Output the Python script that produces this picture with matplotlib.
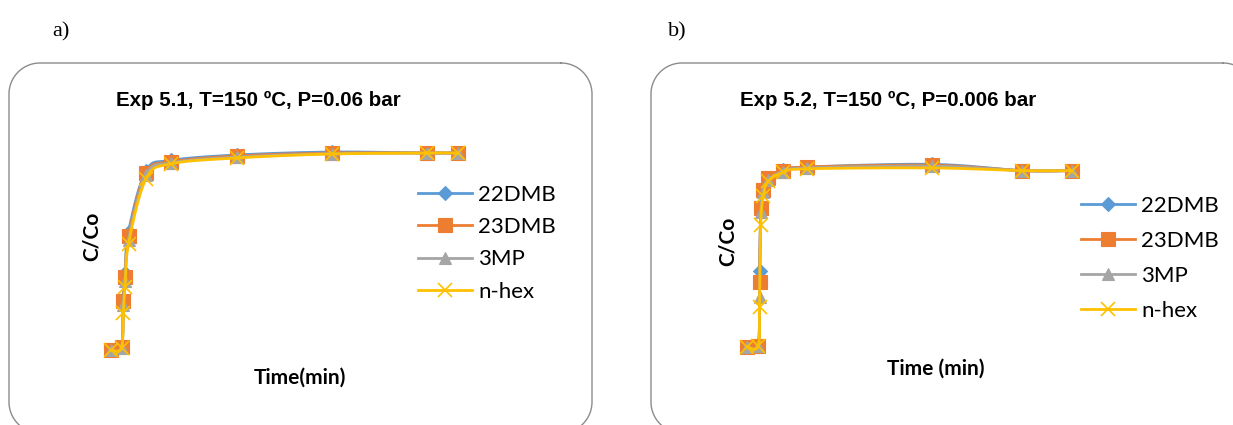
import numpy as np
import matplotlib
matplotlib.use('Agg')
import matplotlib.pyplot as plt
from matplotlib.lines import Line2D

# ---------------- data ----------------
series_names = ["22DMB", "23DMB", "3MP", "n-hex"]

time_a = [0, 3, 3.5, 4, 5, 10, 17, 36, 63, 90, 99]
a_22DMB = [0, 0.015, 0.26, 0.39, 0.60, 0.91, 0.962, 0.99, 1.005, 1.0, 1.0]
a_23DMB = [0, 0.015, 0.25, 0.37, 0.58, 0.90, 0.955, 0.985, 1.0, 1.0, 1.0]
a_3MP = [0, 0.012, 0.23, 0.35, 0.56, 0.89, 0.95, 0.98, 0.997, 1.0, 1.0]
a_nhex = [0, 0.01, 0.19, 0.32, 0.54, 0.87, 0.945, 0.975, 0.995, 1.0, 1.0]

time_b = [0, 4.5, 5, 5.5, 6.5, 8.5, 14.5, 24, 74, 110, 130]
b_22DMB = [0, 0.005, 0.42, 0.77, 0.87, 0.94, 0.985, 1.0, 1.015, 0.98, 0.98]
b_23DMB = [0, 0.005, 0.36, 0.77, 0.87, 0.94, 0.98, 1.0, 1.01, 0.98, 0.98]
b_3MP = [0, 0.005, 0.28, 0.75, 0.86, 0.93, 0.975, 0.995, 1.005, 0.98, 0.98]
b_nhex = [0, 0.005, 0.22, 0.68, 0.84, 0.92, 0.97, 0.99, 0.995, 0.98, 0.98]

titles = ["Exp 5.1, T=150 ºC, P=0.06 bar", "Exp 5.2, T=150 ºC, P=0.006 bar"]
xlabels = ["Time(min)", "Time (min)"]
ylabel = "C/Co"
panel_tags = ["a)", "b)"]

# ---------------- styles ----------------
colors = ["#5B9BD5", "#ED7D31", "#A5A5A5", "#FFC000"]
markers = ["D", "s", "^", "x"]
msizes = [7.5, 9.5, 8.5, 9.5]

W, H = 1233, 425
fig = plt.figure(figsize=(W / 100, H / 100), dpi=100)
fig.patch.set_facecolor("white")

LEG_FONT = ["Lato", "DejaVu Sans"]
TITLE_FONT = ["Liberation Sans", "DejaVu Sans"]


def fx(px):
    return px / W


def fy(py):
    return 1 - py / H


def add_ax(l, t, r, b):
    ax = fig.add_axes([l / W, 1 - b / H, (r - l) / W, (b - t) / H])
    ax.set_axis_off()
    return ax


def smooth(ax, x, y, n=24):
    bbox = ax.get_position()
    xl = ax.get_xlim()
    yl = ax.get_ylim()
    sx = bbox.width * W / (xl[1] - xl[0])
    sy = bbox.height * H / (yl[1] - yl[0])
    P = np.column_stack([np.asarray(x, float) * sx, np.asarray(y, float) * sy])
    pts = np.vstack([P[0], P, P[-1]])
    out = []
    t = np.linspace(0, 1, n)[:, None]
    for i in range(1, len(pts) - 2):
        p0, p1, p2, p3 = pts[i - 1], pts[i], pts[i + 1], pts[i + 2]
        c1 = p1 + (p2 - p0) / 6
        c2 = p2 - (p3 - p1) / 6
        seg = (1 - t) ** 3 * p1 + 3 * (1 - t) ** 2 * t * c1 + 3 * (1 - t) * t ** 2 * c2 + t ** 3 * p2
        out.append(seg if i == 1 else seg[1:])
    out = np.vstack(out)
    return out[:, 0] / sx, out[:, 1] / sy


def rounded_rect(l, t, r, b, rad, n=30):
    xs, ys = [], []
    corners = [(r - rad, t + rad, -90, 0), (r - rad, b - rad, 0, 90),
               (l + rad, b - rad, 90, 180), (l + rad, t + rad, 180, 270)]
    for cx, cy, a0, a1 in corners:
        a = np.radians(np.linspace(a0, a1, n))
        xs.extend(cx + rad * np.cos(a))
        ys.extend(cy + rad * np.sin(a))
    xs.append(xs[0])
    ys.append(ys[0])
    return xs, ys


# rounded frames, drawn on a full-figure pixel canvas
bg = fig.add_axes([0, 0, 1, 1], zorder=-5)
bg.set_xlim(0, W)
bg.set_ylim(H, 0)
bg.set_axis_off()
for (l, t, r, b) in [(9, 63, 592, 433), (651, 63, 1254, 433)]:
    xs, ys = rounded_rect(l, t, r, b, 31)
    bg.plot(xs, ys, color="#8C8C8C", lw=1.0, clip_on=True)

panels = [
    dict(time=time_a, data=[a_22DMB, a_23DMB, a_3MP, a_nhex],
         box=(100, 140, 470, 360), xlim=(-3.14, 102.4), ylim=(-0.0508, 1.066),
         title_xy=(258, 100), xlab_xy=(300, 378), ylab_xy=(92, 236),
         leg_xy=(418, 185), tag_xy=(61, 32), legsp=0.55),
    dict(time=time_b, data=[b_22DMB, b_23DMB, b_3MP, b_nhex],
         box=(737, 155, 1085, 357), xlim=(-4.0, 135.2), ylim=(-0.0556, 1.0667),
         title_xy=(888, 100), xlab_xy=(936, 369), ylab_xy=(728, 241),
         leg_xy=(1081, 196), tag_xy=(677, 32), legsp=0.67),
]

for pi, p in enumerate(panels):
    ax = add_ax(*p["box"])
    ax.set_xlim(*p["xlim"])
    ax.set_ylim(*p["ylim"])
    handles = []
    for si, ys in enumerate(p["data"]):
        sx_, sy_ = smooth(ax, p["time"], ys)
        ax.plot(sx_, sy_, color=colors[si], lw=2.0, solid_capstyle="round",
                zorder=2 + si * 2, clip_on=False)
        ax.plot(p["time"], ys, linestyle="none", marker=markers[si], ms=msizes[si],
                color=colors[si], mec=colors[si], mew=1.2 if markers[si] == "x" else 0.8,
                zorder=3 + si * 2, clip_on=False)
        handles.append(Line2D([], [], color=colors[si], lw=2.0, marker=markers[si],
                              ms=msizes[si], mec=colors[si],
                              mew=1.2 if markers[si] == "x" else 0.8))
    fig.legend(handles, series_names, loc="upper left",
               bbox_to_anchor=(fx(p["leg_xy"][0]), fy(p["leg_xy"][1])),
               bbox_transform=fig.transFigure, frameon=False, borderpad=0,
               borderaxespad=0, handlelength=2.45, handletextpad=0.25,
               labelspacing=p["legsp"], prop=dict(family=LEG_FONT, size=16))
    fig.text(fx(p["title_xy"][0]), fy(p["title_xy"][1]), titles[pi], ha="center",
             va="center", fontsize=14.8, fontweight="bold", family=TITLE_FONT)
    fig.text(fx(p["xlab_xy"][0]), fy(p["xlab_xy"][1]), xlabels[pi], ha="center",
             va="center", fontsize=15, fontweight="bold", family=LEG_FONT)
    fig.text(fx(p["ylab_xy"][0]), fy(p["ylab_xy"][1]), ylabel, ha="center",
             va="center", rotation=90, fontsize=15, fontweight="bold", family=LEG_FONT)
    fig.text(fx(p["tag_xy"][0]), fy(p["tag_xy"][1]), panel_tags[pi], ha="center",
             va="center", fontsize=16, family=["Liberation Serif", "DejaVu Serif"])

fig.savefig("out.png", dpi=100, facecolor="white")
